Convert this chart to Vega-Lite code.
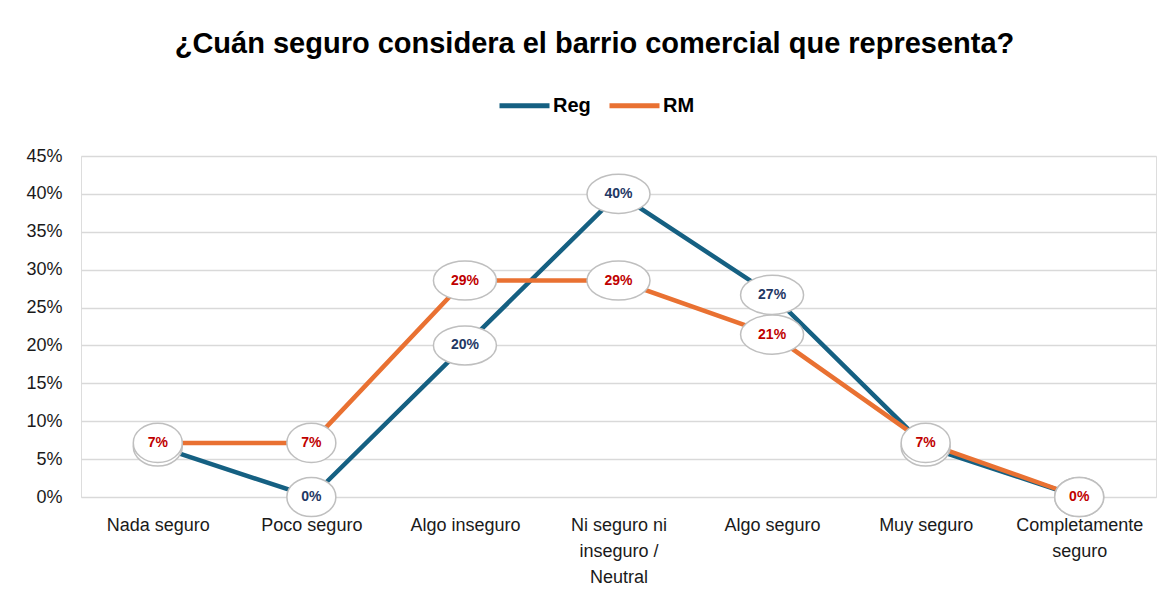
{
  "$schema": "https://vega.github.io/schema/vega-lite/v6.json",
  "autosize": {"type": "none"},
  "width": 1075,
  "height": 341,
  "padding": {"left": 81, "top": 156, "right": 18, "bottom": 106},
  "background": "white",
  "title": {
    "text": "¿Cuán seguro considera el barrio comercial que representa?",
    "font": "Liberation Sans",
    "fontSize": 29,
    "fontWeight": "bold",
    "color": "#000000",
    "anchor": "middle",
    "frame": "group",
    "dx": -24,
    "offset": 19
  },
  "data": {
    "values": [
      {"cat": "Nada seguro", "series": "Reg", "val": 0.0667},
      {"cat": "Poco seguro", "series": "Reg", "val": 0},
      {"cat": "Algo inseguro", "series": "Reg", "val": 0.2},
      {"cat": "Ni seguro ni inseguro / Neutral", "series": "Reg", "val": 0.4},
      {"cat": "Algo seguro", "series": "Reg", "val": 0.2667},
      {"cat": "Muy seguro", "series": "Reg", "val": 0.0667},
      {"cat": "Completamente seguro", "series": "Reg", "val": 0},
      {"cat": "Nada seguro", "series": "RM", "val": 0.0714},
      {"cat": "Poco seguro", "series": "RM", "val": 0.0714},
      {"cat": "Algo inseguro", "series": "RM", "val": 0.2857},
      {"cat": "Ni seguro ni inseguro / Neutral", "series": "RM", "val": 0.2857},
      {"cat": "Algo seguro", "series": "RM", "val": 0.2143},
      {"cat": "Muy seguro", "series": "RM", "val": 0.0714},
      {"cat": "Completamente seguro", "series": "RM", "val": 0}
    ]
  },
  "encoding": {
    "x": {
      "field": "cat",
      "type": "nominal",
      "sort": null,
      "scale": {"type": "point", "padding": 0.5},
      "axis": {
        "title": null,
        "labelAngle": 0,
        "domain": false,
        "ticks": false,
        "labelFont": "Liberation Sans",
        "labelFontSize": 18,
        "labelColor": "#1a1a1a",
        "labelPadding": 19,
        "labelLineHeight": 26,
        "labelBaseline": "top",
        "labelExpr": "datum.label == 'Ni seguro ni inseguro / Neutral' ? ['Ni seguro ni', 'inseguro /', 'Neutral'] : datum.label == 'Completamente seguro' ? ['Completamente', 'seguro'] : datum.label"
      }
    },
    "y": {
      "field": "val",
      "type": "quantitative",
      "scale": {"domain": [0, 0.45], "nice": false},
      "axis": {
        "title": null,
        "values": [0, 0.05, 0.1, 0.15, 0.2, 0.25, 0.3, 0.35, 0.4, 0.45],
        "format": ".0%",
        "domain": false,
        "ticks": false,
        "labelFont": "Liberation Sans",
        "labelFontSize": 18,
        "labelColor": "#1a1a1a",
        "labelPadding": 19,
        "gridColor": "#D9D9D9",
        "gridWidth": 1.5
      }
    }
  },
  "layer": [
    {
      "transform": [{"filter": "datum.series == 'Reg'"}],
      "mark": {"type": "line", "strokeWidth": 4.5},
      "encoding": {
        "color": {
          "field": "series",
          "type": "nominal",
          "scale": {"domain": ["Reg", "RM"], "range": ["#156082", "#E97132"]},
          "legend": {
            "title": null,
            "orient": "none",
            "direction": "horizontal",
            "legendX": 416,
            "legendY": -78,
            "padding": 0,
            "symbolType": "stroke",
            "symbolSize": 2500,
            "symbolStrokeWidth": 5,
            "labelFont": "Liberation Sans",
            "labelFontSize": 20,
            "labelFontWeight": "bold",
            "labelColor": "#000000",
            "labelOffset": 1,
            "columnPadding": 8
          }
        }
      }
    },
    {
      "transform": [{"filter": "datum.series == 'RM'"}],
      "mark": {"type": "line", "strokeWidth": 4.5},
      "encoding": {"color": {"field": "series", "type": "nominal"}}
    },
    {
      "transform": [{"filter": "datum.series == 'Reg'"}],
      "mark": {"type": "point", "filled": true, "fill": "white", "stroke": "#BFBFBF", "strokeWidth": 1.5, "opacity": 1},
      "encoding": {
        "shape": {"condition": {"test": "datum.val < 0.095", "value": "M-1,0A1,0.8,0,1,0,1,0A1,0.8,0,1,0,-1,0Z"}, "value": "M-1,0A1,0.62,0,1,0,1,0A1,0.62,0,1,0,-1,0Z"},
        "size": {"condition": {"test": "datum.val < 0.095", "value": 2401}, "value": 3969}
      }
    },
    {
      "transform": [{"filter": "datum.series == 'Reg'"}],
      "mark": {"type": "text", "font": "Liberation Sans", "fontSize": 14, "fontWeight": "bold", "color": "#1F3864"},
      "encoding": {"text": {"field": "val", "type": "quantitative", "format": ".0%"}}
    },
    {
      "transform": [{"filter": "datum.series == 'RM'"}],
      "mark": {"type": "point", "filled": true, "fill": "white", "stroke": "#BFBFBF", "strokeWidth": 1.5, "opacity": 1},
      "encoding": {
        "shape": {"condition": {"test": "datum.val < 0.095", "value": "M-1,0A1,0.8,0,1,0,1,0A1,0.8,0,1,0,-1,0Z"}, "value": "M-1,0A1,0.62,0,1,0,1,0A1,0.62,0,1,0,-1,0Z"},
        "size": {"condition": {"test": "datum.val < 0.095", "value": 2401}, "value": 3969}
      }
    },
    {
      "transform": [{"filter": "datum.series == 'RM'"}],
      "mark": {"type": "text", "font": "Liberation Sans", "fontSize": 14, "fontWeight": "bold", "color": "#C00000"},
      "encoding": {"text": {"field": "val", "type": "quantitative", "format": ".0%"}}
    }
  ]
}
